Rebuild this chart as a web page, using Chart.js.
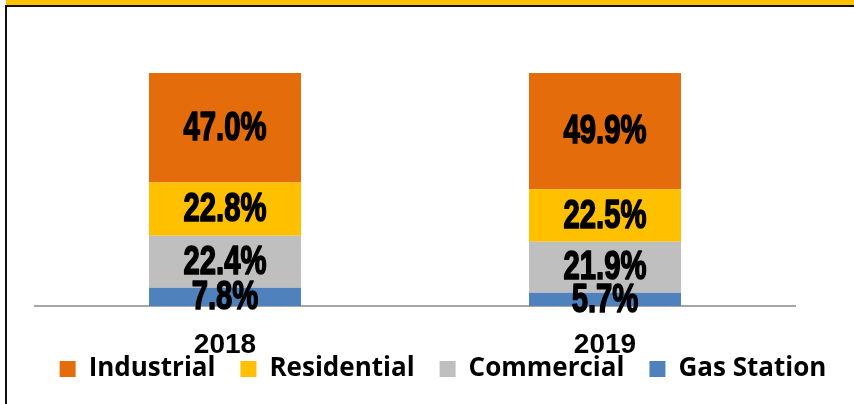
<!DOCTYPE html>
<html>
<head>
<meta charset="utf-8">
<script src="https://cdn.jsdelivr.net/npm/chart.js@4/dist/chart.umd.min.js"></script>
<style>
  html, body { margin: 0; padding: 0; background: #fff; }
  #wrap { position: absolute; left: 0; top: 0; width: 854px; height: 404px; overflow: hidden; }
  #band { position: absolute; left: 6px; top: 0; width: 848px; height: 5px; background: #ffc000; }
  #topline { position: absolute; left: 5px; top: 5px; width: 849px; height: 2px; background: #111; }
  #leftline { position: absolute; left: 5px; top: 5px; width: 2px; height: 399px; background: #111; }
  canvas { position: absolute; left: 0; top: 0; }
</style>
</head>
<body>
<div id="wrap">
  <div id="band"></div>
  <div id="topline"></div>
  <div id="leftline"></div>
  <canvas id="c" width="854" height="404"></canvas>
</div>
<script>
const categories = ['2018', '2019'];
const industrial = [47.0, 49.9];
const residential = [22.8, 22.5];
const commercial = [22.4, 21.9];
const gasStation = [7.8, 5.7];
const seriesNames = ['Industrial', 'Residential', 'Commercial', 'Gas Station'];
const seriesColors = ['#e46c0a', '#ffc000', '#bfbfbf', '#4f81bd'];

const heavy = "'Liberation Sans', Arial, sans-serif";
const LEGEND_PAD = 25;
const LEGEND_FONT = 26;

const valueLabels = {
  id: 'valueLabels',
  afterDatasetsDraw(chart) {
    const ctx = chart.ctx;
    ctx.save();
    ctx.fillStyle = '#000';
    ctx.strokeStyle = '#000';
    ctx.lineWidth = 1.6;
    ctx.lineJoin = 'round';
    ctx.font = "bold 39px " + heavy;
    ctx.textAlign = 'center';
    ctx.textBaseline = 'middle';
    chart.data.datasets.forEach((ds, i) => {
      const meta = chart.getDatasetMeta(i);
      meta.data.forEach((el, j) => {
        const v = ds.data[j];
        const yc = (el.y + el.base) / 2;
        const txt = v.toFixed(1) + '%';
        ctx.save();
        ctx.translate(el.x, yc + 1);
        ctx.scale(0.75, 1.05);
        ctx.fillText(txt, 0, 0);
        ctx.strokeText(txt, 0, 0);
        ctx.restore();
      });
    });
    ctx.restore();
  }
};

const legendPlace = {
  id: 'legendPlace',
  afterLayout(chart) {
    const lg = chart.legend;
    if (!lg) return;
    const w = lg.right - lg.left;
    const h = lg.bottom - lg.top;
    const cx = 443;
    lg.left = cx - w / 2;
    lg.right = lg.left + w;
    lg.top = 369 - LEGEND_FONT / 2 - LEGEND_PAD;
    lg.bottom = lg.top + h;
  }
};

const spacer = (w) => ({
  display: true,
  min: 0,
  max: 100,
  stacked: true,
  grid: { display: false, drawTicks: false },
  border: { display: false },
  ticks: { display: false },
  afterFit(scale) { scale.width = w; }
});

new Chart(document.getElementById('c'), {
  type: 'bar',
  data: {
    labels: categories,
    datasets: [
      { label: seriesNames[3], data: gasStation, backgroundColor: seriesColors[3] },
      { label: seriesNames[2], data: commercial, backgroundColor: seriesColors[2] },
      { label: seriesNames[1], data: residential, backgroundColor: seriesColors[1] },
      { label: seriesNames[0], data: industrial, backgroundColor: seriesColors[0] }
    ]
  },
  options: {
    responsive: false,
    animation: false,
    layout: { padding: { left: 0, right: 0, top: 73 - (LEGEND_FONT + LEGEND_PAD + 10), bottom: 2 } },
    datasets: { bar: { barPercentage: 1, categoryPercentage: 0.4, borderWidth: 0 } },
    scales: {
      x: {
        stacked: true,
        grid: { display: false, drawTicks: false },
        border: { display: true, color: '#a6a6a6', width: 2 },
        ticks: { color: '#000', padding: 22, font: { family: heavy, size: 28, weight: 'bold' } },
        afterFit(scale) { scale.height = 96; }
      },
      y: Object.assign({ position: 'left' }, spacer(35)),
      yRight: Object.assign({ position: 'right', type: 'linear' }, spacer(59))
    },
    plugins: {
      tooltip: { enabled: false },
      legend: {
        position: 'top',
        reverse: true,
        labels: {
          color: '#000',
          boxWidth: 16,
          boxHeight: 16,
          padding: LEGEND_PAD,
          font: { family: "'Open Sans', 'Noto Sans', sans-serif", size: LEGEND_FONT, weight: 'bold' }
        }
      }
    }
  },
  plugins: [valueLabels, legendPlace]
});
</script>
</body>
</html>
